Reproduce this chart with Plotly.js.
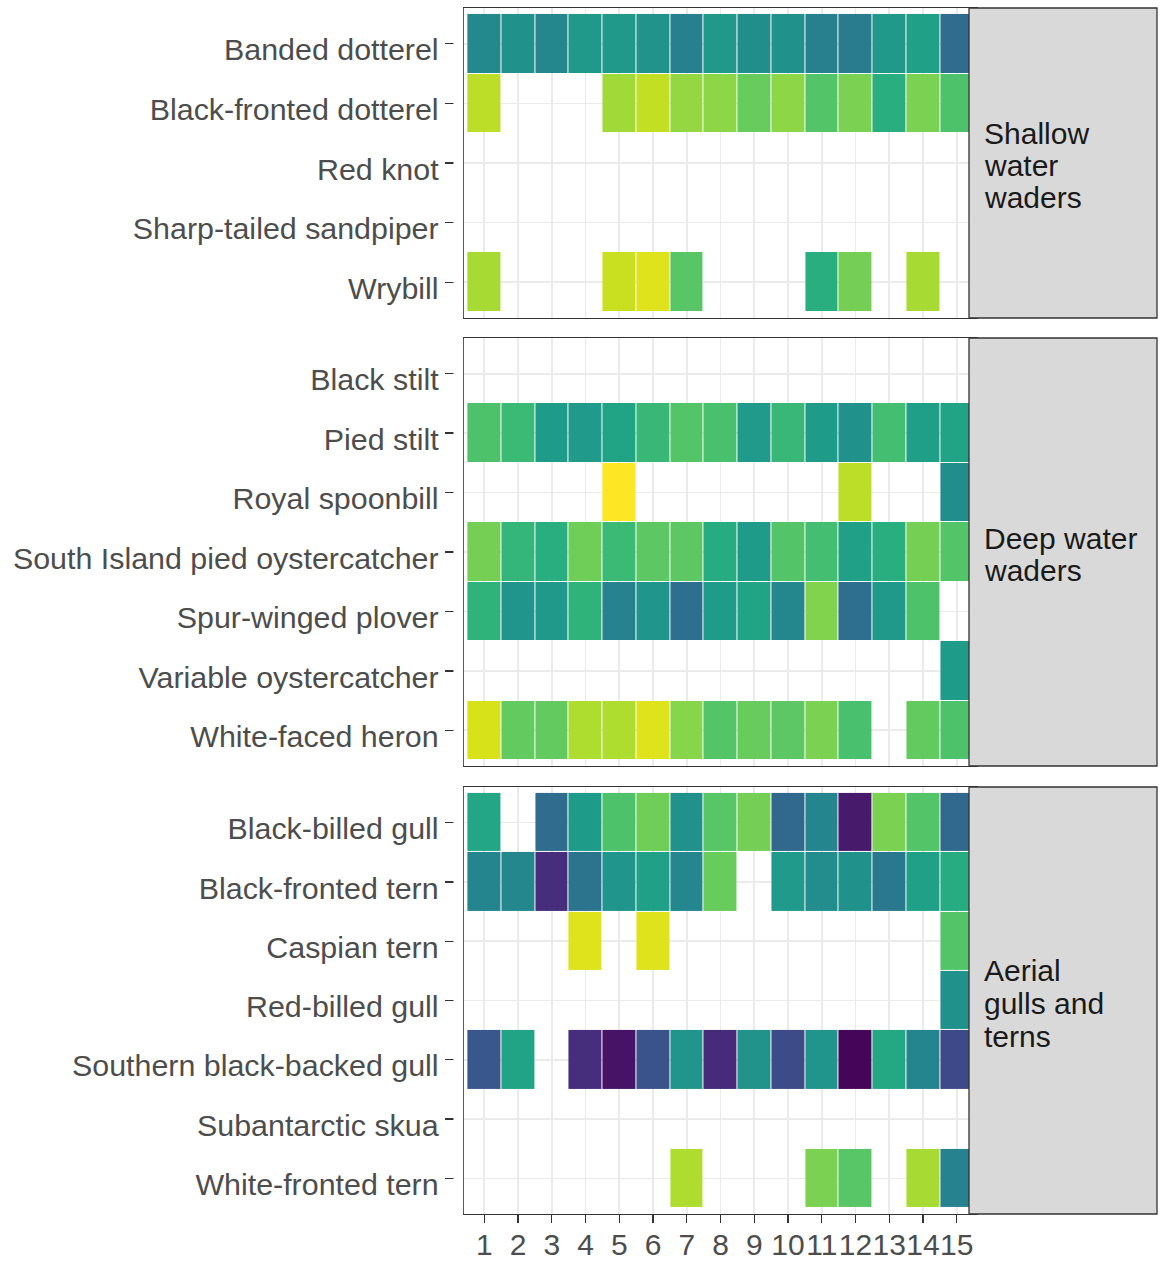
<!DOCTYPE html>
<html>
<head>
<meta charset="utf-8">
<script src="https://cdn.plot.ly/plotly-3.0.1.min.js"></script>
<style>html,body{margin:0;padding:0;background:#fff;}#chart{width:1166px;height:1268px;}</style>
</head>
<body>
<div id="chart"></div>
<script>
// ---- data ----
const months = [1,2,3,4,5,6,7,8,9,10,11,12,13,14,15];

const groupNames = [["Shallow", "water", "waders"], ["Deep water", "waders"], ["Aerial", "gulls and", "terns"]];

const species1 = ["Banded dotterel", "Black-fronted dotterel", "Red knot", "Sharp-tailed sandpiper", "Wrybill"];
const z1 = [
  [0.47,0.50,0.46,0.53,0.53,0.51,0.43,0.53,0.49,0.50,0.43,0.41,0.53,0.57,0.35],
  [0.90,null,null,null,0.86,0.91,0.84,0.83,0.77,0.83,0.73,0.80,0.63,0.80,0.72],
  [null,null,null,null,null,null,null,null,null,null,null,null,null,null,null],
  [null,null,null,null,null,null,null,null,null,null,null,null,null,null,null],
  [0.87,null,null,null,0.92,0.95,0.74,null,null,null,0.63,0.79,null,0.87,null]
];

const species2 = ["Black stilt", "Pied stilt", "Royal spoonbill", "South Island pied oystercatcher", "Spur-winged plover", "Variable oystercatcher", "White-faced heron"];
const z2 = [
  [null,null,null,null,null,null,null,null,null,null,null,null,null,null,null],
  [0.72,0.68,0.55,0.54,0.58,0.67,0.73,0.71,0.54,0.67,0.55,0.50,0.70,0.56,0.58],
  [null,null,null,null,1.00,null,null,null,null,null,null,0.90,null,null,0.49],
  [0.79,0.66,0.63,0.78,0.68,0.75,0.75,0.62,0.55,0.73,0.70,0.57,0.63,0.79,0.73],
  [0.65,0.52,0.53,0.65,0.44,0.52,0.36,0.55,0.58,0.46,0.81,0.36,0.53,0.72,null],
  [null,null,null,null,null,null,null,null,null,null,null,null,null,null,0.55],
  [0.94,0.76,0.76,0.88,0.88,0.95,0.82,0.73,0.77,0.75,0.80,0.71,null,0.76,0.72]
];

const species3 = ["Black-billed gull", "Black-fronted tern", "Caspian tern", "Red-billed gull", "Southern black-backed gull", "Subantarctic skua", "White-fronted tern"];
const z3 = [
  [0.59,null,0.35,0.55,0.72,0.78,0.50,0.74,0.79,0.34,0.45,0.07,0.80,0.73,0.34],
  [0.45,0.46,0.13,0.38,0.52,0.57,0.46,0.77,null,0.54,0.48,0.50,0.40,0.57,0.62],
  [null,null,null,0.95,null,0.95,null,null,null,null,null,null,null,null,0.73],
  [null,null,null,null,null,null,null,null,null,null,null,null,null,null,0.50],
  [0.27,0.58,null,0.13,0.05,0.26,0.52,0.12,0.51,0.23,0.52,0.01,0.60,0.45,0.22],
  [null,null,null,null,null,null,null,null,null,null,null,null,null,null,null],
  [null,null,null,null,null,null,0.88,null,null,null,0.80,0.74,null,0.87,0.44]
];

// ---- layout geometry (pixels) ----
const W = 1166, H = 1268;
const L = 464, R = 977, T = 8, B = 1214;
const pw = R - L, ph = B - T;
const py = p => (B - p) / ph;          // pixel y -> paper y
const px = p => (p - L) / pw;          // pixel x -> paper x
const panels = [[8, 318], [338, 766], [787, 1214]];
const stripTextY = [[133, 166, 198], [538, 570], [970, 1003, 1036]];

const FONT = "Liberation Sans, Arial, Helvetica, sans-serif";
const speciesList = [species1, species2, species3];
const zList = [z1, z2, z3];

const traces = zList.map((z, i) => ({
  type: "heatmap",
  x: months,
  y: speciesList[i],
  z: z,
  xaxis: i === 0 ? "x" : "x" + (i + 1),
  yaxis: i === 0 ? "y" : "y" + (i + 1),
  colorscale: "Viridis",
  zmin: 0, zmax: 1,
  showscale: false,
  xgap: 1, ygap: 1,
  hoverongaps: false
}));

const layout = {
  width: W, height: H,
  margin: {l: L, r: W - R, t: T, b: H - B, pad: 0},
  paper_bgcolor: "#ffffff",
  plot_bgcolor: "#ffffff",
  showlegend: false,
  font: {family: FONT, size: 30, color: "#4d4d4d"},
  shapes: [],
  annotations: []
};

panels.forEach((pp, i) => {
  const sfx = i === 0 ? "" : String(i + 1);
  const n = speciesList[i].length;
  const isBottom = i === 2;
  layout["xaxis" + sfx] = {
    domain: [0, 1],
    anchor: "y" + sfx,
    range: [0.4, 15.6],
    tickmode: "array",
    tickvals: months,
    ticktext: months.map(String),
    tickangle: 0,
    showticklabels: isBottom,
    ticklabelstandoff: -4,
    ticks: isBottom ? "outside" : "",
    ticklen: 8, tickwidth: 1.3, tickcolor: "#333333",
    tickfont: {family: FONT, size: 30, color: "#4d4d4d"},
    showgrid: true, gridcolor: "#ebebeb", gridwidth: 1.7,
    zeroline: false,
    showline: true, mirror: true, linecolor: "#333333", linewidth: 1.3,
    fixedrange: true
  };
  layout["yaxis" + sfx] = {
    domain: [py(pp[1]), py(pp[0])],
    anchor: "x" + sfx,
    type: "category",
    range: [n - 0.4, -0.6],
    ticks: "outside",
    ticklen: 18, tickwidth: 1.3, tickcolor: "#333333",
    ticklabelshift: -6,
    tickfont: {family: FONT, size: 30.4, color: "#4d4d4d"},
    showgrid: true, gridcolor: "#ebebeb", gridwidth: 1.7,
    zeroline: false,
    showline: true, mirror: true, linecolor: "#333333", linewidth: 1.3,
    fixedrange: true
  };
  // strip box (covers the right end of the panel, as in the original)
  layout.shapes.push({
    type: "rect", xref: "paper", yref: "paper",
    x0: px(969), x1: px(1157), y0: py(pp[1]), y1: py(pp[0]),
    fillcolor: "#d9d9d9", line: {color: "#333333", width: 1.3}, layer: "above"
  });
  // gap between y ticks and panel border
  layout.shapes.push({
    type: "rect", xref: "paper", yref: "paper",
    x0: px(453.5), x1: px(463.2), y0: py(pp[1]) , y1: py(pp[0]),
    fillcolor: "#ffffff", line: {width: 0}, layer: "above"
  });
  groupNames[i].forEach((line, k) => {
    layout.annotations.push({
      xref: "paper", yref: "paper",
      x: px(982), y: py(stripTextY[i][k]),
      xanchor: "left", yanchor: "middle",
      text: line, showarrow: false,
      font: {family: FONT, size: 30, color: "#1a1a1a"}
    });
  });
});

Plotly.newPlot("chart", traces, layout, {displayModeBar: false, staticPlot: true});
</script>
</body>
</html>
